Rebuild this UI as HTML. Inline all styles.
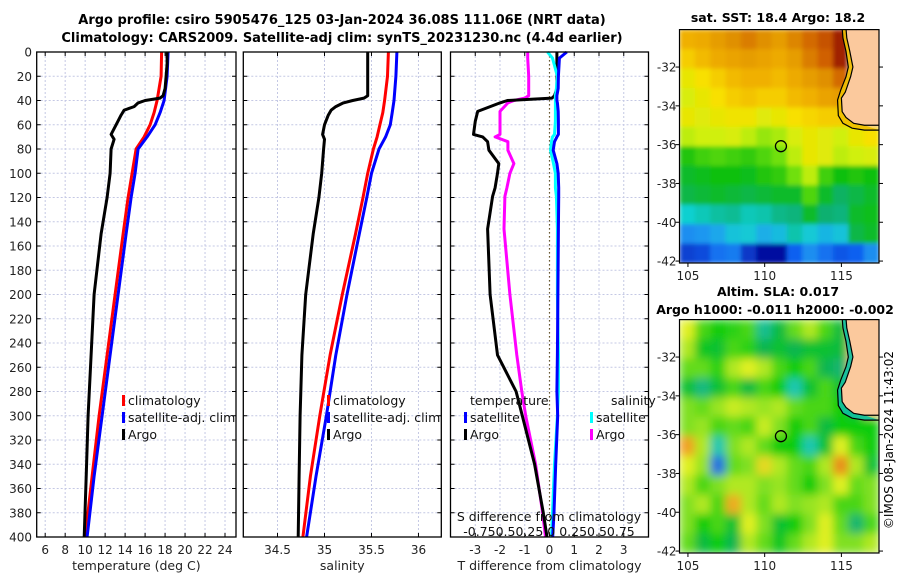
<!DOCTYPE html>
<html><head><meta charset="utf-8">
<style>
html,body{margin:0;padding:0;background:#fff;}
svg{display:block;font-family:"DejaVu Sans","Liberation Sans",sans-serif;}
</style></head>
<body>
<svg id="fig" width="900" height="580" viewBox="0 0 900 580" xmlns="http://www.w3.org/2000/svg">
<defs>
<clipPath id="clipM1"><rect x="679.5" y="29.6" width="199.5" height="233.4"/></clipPath>
<clipPath id="clipM2"><rect x="679.5" y="319.6" width="199.5" height="233.4"/></clipPath>
<filter id="blurSST" filterUnits="userSpaceOnUse" x="679.5" y="29.6" width="199.5" height="233.4"><feGaussianBlur stdDeviation="2" edgeMode="duplicate"/></filter>
<filter id="blurSLA" filterUnits="userSpaceOnUse" x="679.5" y="319.6" width="199.5" height="233.4"><feGaussianBlur stdDeviation="4.5" edgeMode="duplicate"/></filter>
</defs>
<text x="342" y="24" text-anchor="middle" font-weight="bold" font-size="13">Argo profile: csiro 5905476_125 03-Jan-2024 36.08S 111.06E (NRT data)</text>
<text x="342" y="42" text-anchor="middle" font-weight="bold" font-size="13">Climatology: CARS2009. Satellite-adj clim: synTS_20231230.nc (4.4d earlier)</text>
<g id="panels"></g>
<g id="maps"></g>
<text transform="translate(893,440) rotate(-90)" text-anchor="middle" font-size="12">©IMOS 08-Jan-2024 11:43:02</text>
</svg>
<script>
// ---------- profile data ----------
const climDepth = [0,20,40,50,60,70,80,100,120,150,200,250,300,350,400];
const climT = [17.65,17.6,17.2,16.9,16.5,15.9,15.1,14.7,14.3,13.8,13.0,12.2,11.4,10.7,10.0];
const satT  = [18.3,18.2,17.9,17.5,17.0,16.2,15.3,15.0,14.6,14.1,13.3,12.5,11.7,10.9,10.2];
const climS = [35.68,35.67,35.64,35.62,35.59,35.56,35.52,35.46,35.41,35.33,35.19,35.06,34.95,34.85,34.77];
const satS  = [35.77,35.76,35.74,35.72,35.70,35.65,35.58,35.50,35.45,35.37,35.24,35.12,35.02,34.91,34.81];
const argoDepth = [0,10,20,30,36,38,40,42,45,48,52,60,68,72,80,100,120,150,200,250,300,350,400];
const argoT = [18.2,18.2,18.1,18.0,17.8,17.5,16.0,15.3,14.9,13.9,13.6,13.1,12.6,12.9,12.6,12.5,12.2,11.6,10.9,10.6,10.3,10.1,9.9];
const argoS = [35.46,35.46,35.46,35.46,35.46,35.42,35.3,35.2,35.12,35.07,35.04,35.0,34.98,35.0,34.99,34.97,34.94,34.88,34.80,34.76,34.74,34.73,34.72];
const diffDepth = [0,5,20,30,36,38,40,42,49,57,68,70,74,81,92,100,112,119,146,200,250,280,300,340,380,400];
const dTargo = [0.3,0.3,0.3,0.3,0.2,0.1,-1.7,-2.0,-2.9,-3.0,-3.07,-2.7,-2.5,-2.45,-2.05,-2.1,-2.2,-2.3,-2.5,-2.4,-2.1,-1.35,-1.1,-0.6,-0.25,-0.1];
const dTsat  = [0.7,0.4,0.36,0.35,0.3,0.3,0.3,0.32,0.35,0.36,0.36,0.3,0.2,0.15,0.3,0.35,0.37,0.37,0.36,0.34,0.32,0.3,0.33,0.25,0.18,0.13];
const dSargo = [-0.22,-0.22,-0.21,-0.21,-0.21,-0.25,-0.36,-0.42,-0.5,-0.5,-0.5,-0.55,-0.42,-0.42,-0.36,-0.4,-0.43,-0.45,-0.46,-0.4,-0.33,-0.28,-0.24,-0.14,-0.07,-0.04];
const dSsat  = [-0.02,0.03,0.08,0.07,0.06,0.06,0.06,0.06,0.06,0.06,0.05,0.03,0.02,0.01,0.04,0.06,0.06,0.07,0.08,0.08,0.09,0.09,0.08,0.05,0.03,0.02];
const depthTicks = [0,20,40,60,80,100,120,140,160,180,200,220,240,260,280,300,320,340,360,380,400];
const tTicks = [6,8,10,12,14,16,18,20,22,24];
const sTicks = [34.5,35,35.5,36];
const dTicks = [-3,-2,-1,0,1,2,3];

// ---------- map data (1 deg cells, rows from -30 southward, cols from 104.45 E) ----------
const sstRows = [
 [19.3,19.4,19.6,19.8,20.0,19.8,19.6,19.9,20.2,20.4,20.8,null,null],
 [19.0,19.2,19.4,19.5,19.6,19.5,19.4,19.6,20.0,20.3,20.8,null,null],
 [18.6,18.8,19.0,19.2,19.3,19.3,19.2,19.4,19.6,19.8,20.2,null,null],
 [18.4,18.6,18.8,19.0,19.1,19.0,19.0,19.2,19.3,19.5,19.6,null,null],
 [18.6,18.5,18.6,18.7,18.7,18.5,18.6,18.8,18.9,19.0,19.0,18.8,null],
 [18.2,18.3,18.3,18.4,18.2,18.0,18.1,18.4,18.6,18.5,18.3,18.6,18.8],
 [17.3,17.5,17.6,17.5,17.4,17.6,17.8,18.2,18.6,18.5,18.2,18.3,18.4],
 [17.0,17.1,17.2,17.2,17.1,17.3,17.4,17.8,18.2,17.5,17.2,17.3,17.2],
 [16.8,16.9,17.0,16.9,16.8,16.9,17.0,17.0,17.6,17.0,16.6,16.8,17.0],
 [15.7,15.9,16.1,16.2,15.9,16.0,16.3,16.4,17.0,16.5,16.4,17.0,17.1],
 [14.8,14.9,15.1,15.5,15.6,15.2,15.4,16.0,15.6,15.3,15.5,16.8,17.0],
 [14.0,14.1,14.5,14.6,13.9,13.5,13.5,14.3,14.8,14.5,14.2,14.3,14.8]
];
const slaRows = [
 [0.08,0.02,0.0,0.01,0.02,-0.08,-0.03,0.03,0.06,0.02,-0.03,null,null],
 [0.06,-0.01,-0.02,0.02,0.01,-0.04,-0.02,-0.04,-0.02,-0.02,-0.03,null,null],
 [0.03,0.03,0.01,0.06,0.08,0.06,0.02,0.0,0.02,-0.04,-0.06,null,null],
 [-0.02,-0.07,-0.02,0.02,-0.03,0.02,0.0,-0.1,-0.02,0.02,-0.02,null,null],
 [0.04,0.03,0.05,0.07,0.06,0.05,0.06,0.03,0.02,0.02,0.0,-0.04,null],
 [0.04,0.05,0.02,0.03,0.02,0.07,0.04,0.0,0.02,-0.03,0.0,0.0,0.0],
 [0.15,0.06,-0.1,0.04,0.06,0.03,0.0,0.0,-0.1,-0.02,0.08,0.02,0.0],
 [0.08,0.05,-0.2,0.03,0.04,0.1,0.06,0.03,0.02,0.06,0.17,0.06,-0.02],
 [0.06,0.02,0.04,0.06,0.06,0.04,0.05,0.03,0.0,0.04,0.08,0.03,0.04],
 [0.04,0.06,0.02,0.14,0.06,0.03,0.06,0.04,0.05,0.06,0.02,0.02,0.04],
 [0.04,0.0,0.02,-0.02,0.08,0.04,-0.02,0.0,0.04,0.08,0.03,-0.06,0.02],
 [0.03,-0.03,0.0,-0.04,0.06,0.03,-0.01,0.03,0.06,0.08,0.04,0.04,0.06]
];
const coastLon = [115.3,115.35,115.55,115.75,115.6,115.25,115.0,115.05,115.3,115.8,116.5,117.5,117.5];
const coastLat = [-30.0,-30.5,-31.2,-32.0,-32.5,-33.3,-33.6,-34.3,-34.6,-34.9,-35.0,-35.0,-30.0];
const shelfLon = [115.05,115.1,115.3,115.45,115.3,114.95,114.75,114.8,115.1,115.7,116.5,117.45];
const shelfLat = [-30.0,-30.5,-31.2,-32.0,-32.5,-33.2,-33.7,-34.5,-34.9,-35.15,-35.25,-35.25];
const floatLon = 111.06, floatLat = -36.08;
const mapLatTicks = [-32,-34,-36,-38,-40,-42];
const mapLonTicks = [105,110,115];

const NS="http://www.w3.org/2000/svg";
function mk(tag,attrs,parent){const e=document.createElementNS(NS,tag);for(const k in attrs)e.setAttribute(k,attrs[k]);parent.appendChild(e);return e;}
function sc(d0,d1,r0,r1){return v=>r0+(v-d0)/(d1-d0)*(r1-r0);}
const TOP=52,BOT=537;
const yD=sc(0,400,TOP,BOT);
const panelsG=document.getElementById('panels');

function panel(name,x0,x1,dom0,dom1,ticks,xlabel){
  const g=mk('g',{},panelsG);
  
  
  const xs=sc(dom0,dom1,x0,x1);
  ticks.forEach(t=>{const l=mk('line',{x1:xs(t),x2:xs(t),y1:TOP,y2:BOT,stroke:'#c4c8e4','stroke-width':1,'stroke-dasharray':'2,2'},g);
    });
  depthTicks.forEach(d=>{const l=mk('line',{x1:x0,x2:x1,y1:yD(d),y2:yD(d),stroke:'#c4c8e4','stroke-width':1,'stroke-dasharray':'2,2'},g);
    });
  depthTicks.forEach(d=>{mk('line',{x1:x0,x2:x0+4,y1:yD(d),y2:yD(d),stroke:'#000'},g);mk('line',{x1:x1-4,x2:x1,y1:yD(d),y2:yD(d),stroke:'#000'},g);});
  ticks.forEach(t=>{mk('line',{x1:xs(t),x2:xs(t),y1:BOT-4,y2:BOT,stroke:'#000'},g);mk('line',{x1:xs(t),x2:xs(t),y1:TOP,y2:TOP+4,stroke:'#000'},g);
    const tx=mk('text',{x:xs(t),y:BOT+17,'text-anchor':'middle','font-size':12,fill:'#222'},g);tx.textContent=String(t);
    });
  const xl=mk('text',{x:(x0+x1)/2,y:BOT+33,'text-anchor':'middle','font-size':12.5,fill:'#222'},g);xl.textContent=xlabel;
  
  return {g,xs};
}
function line(g,xs,vals,depths,color,name,w){
  const d=vals.map((v,i)=>(i?'L':'M')+xs(v).toFixed(1)+','+yD(depths[i]).toFixed(1)).join('');
  const p=mk('path',{d:d,fill:'none',stroke:color,'stroke-width':w||3,'stroke-linejoin':'round'},g);
  
}
function box(g,x0,x1){const r=mk('rect',{x:x0,y:TOP,width:x1-x0,height:BOT-TOP,fill:'none',stroke:'#000','stroke-width':1.3},g);
  }
function legend(g,x,y,color,label,name){
  mk('rect',{x:x,y:y-10,width:3,height:11,fill:color},g);
  const t=mk('text',{x:x+6,y:y,'font-size':12.5,fill:'#111'},g);t.textContent=label;
  
}

const p1=panel('temperature-panel',36.7,236,5.15,25.1,tTicks,'temperature (deg C)');
depthTicks.forEach(d=>{const t=mk('text',{x:32,y:yD(d)+4.5,'text-anchor':'end','font-size':12,fill:'#222'},p1.g);t.textContent=d;
  });
line(p1.g,p1.xs,climT,climDepth,'#f00','climatology-temperature-line');
line(p1.g,p1.xs,satT,climDepth,'#00f','satellite-temperature-line');
line(p1.g,p1.xs,argoT,argoDepth,'#000','argo-temperature-line');
box(p1.g,36.7,236);
legend(p1.g,122,405,'#f00','climatology','legend-climatology');
legend(p1.g,122,422,'#00f','satellite-adj. clim','legend-satellite');
legend(p1.g,122,439,'#000','Argo','legend-argo');

const p2=panel('salinity-panel',243.3,441.3,34.136,36.243,sTicks,'salinity');
line(p2.g,p2.xs,climS,climDepth,'#f00','climatology-salinity-line');
line(p2.g,p2.xs,satS,climDepth,'#00f','satellite-salinity-line');
line(p2.g,p2.xs,argoS,argoDepth,'#000','argo-salinity-line');
box(p2.g,243.3,441.3);
legend(p2.g,327,405,'#f00','climatology','legend-climatology');
legend(p2.g,327,422,'#00f','satellite-adj. clim','legend-satellite');
legend(p2.g,327,439,'#000','Argo','legend-argo');

const p3=panel('difference-panel',450.5,648.5,-4,4,dTicks,'T difference from climatology');
const xsS=sc(-1,1,450.5,648.5);
const zl=mk('line',{x1:p3.xs(0),x2:p3.xs(0),y1:TOP,y2:BOT,stroke:'#6b5a2a','stroke-width':1.2,'stroke-dasharray':'1.5,2.5'},p3.g);

line(p3.g,xsS,dSargo,diffDepth,'#f0f','argo-salinity-diff-line');
line(p3.g,p3.xs,dTargo,diffDepth,'#000','argo-temperature-diff-line');
line(p3.g,xsS,dSsat,diffDepth,'#0ff','satellite-salinity-diff-line');
line(p3.g,p3.xs,dTsat,diffDepth,'#00f','satellite-temperature-diff-line');
box(p3.g,450.5,648.5);
let tt=mk('text',{x:470,y:405,'font-size':12.5,fill:'#111'},p3.g);tt.textContent='temperature';

tt=mk('text',{x:611,y:405,'font-size':12.5,fill:'#111'},p3.g);tt.textContent='salinity';

legend(p3.g,464,422,'#00f','satellite','legend-temp-satellite');
legend(p3.g,464,439,'#000','Argo','legend-temp-argo');
legend(p3.g,590,422,'#0ff','satellite','legend-sal-satellite');
legend(p3.g,590,439,'#f0f','Argo','legend-sal-argo');
tt=mk('text',{x:549,y:521,'text-anchor':'middle','font-size':12.5,fill:'#111'},p3.g);tt.textContent='S difference from climatology';

tt=mk('text',{x:549,y:536,'text-anchor':'middle','font-size':12.5,fill:'#111'},p3.g);tt.textContent='-0.750.50.25 0  0.250.50.75';


function interp(stops,v){
  if(v<=stops[0][0])return stops[0][1];
  for(let i=1;i<stops.length;i++){if(v<=stops[i][0]){const a=stops[i-1],b=stops[i],f=(v-a[0])/(b[0]-a[0]);
    return [0,1,2].map(k=>Math.round(a[1][k]+(b[1][k]-a[1][k])*f));}}
  return stops[stops.length-1][1];
}
function rgbStops(arr){return arr.map(s=>[s[0],[parseInt(s[1].slice(1,3),16),parseInt(s[1].slice(3,5),16),parseInt(s[1].slice(5,7),16)]]);}
const sstStops=rgbStops([[13.5,'#0010a0'],[14.3,'#1060f0'],[15,'#20a0f0'],[15.7,'#10d0d0'],[16.5,'#10b070'],[17.2,'#10c010'],[17.8,'#70e010'],[18.3,'#d0f010'],[18.8,'#f8e000'],[19.3,'#f0b000'],[19.8,'#e09000'],[20.3,'#d06000'],[20.8,'#a02000']]);
const slaStops=rgbStops([[-0.2,'#2070e0'],[-0.12,'#20d0d0'],[-0.05,'#10b060'],[0,'#10cc10'],[0.04,'#80e020'],[0.08,'#e0f020'],[0.15,'#f0a020'],[0.2,'#e07010']]);
function col(stops,v){const c=interp(stops,v);return 'rgb('+c.join(',')+')';}
const mapsG=document.getElementById('maps');
function drawMap(name,y0,rows,stops,filt,clip,bandColor,title1,title2,titleY){
  const g=mk('g',{},mapsG);
  
  const X0=679.5,X1=879,Y0=y0,Y1=y0+233.4;
  const lx=sc(104.45,117.45,X0,X1), ly=sc(-30.07,-42.1,Y0,Y1);
  const hg=mk('g',{'clip-path':'url(#'+clip+')'},g);
  const cells=mk('g',{filter:'url(#'+filt+')'},hg);
  
  const nr=rows.length,nc=rows[0].length,cw=(X1-X0)/nc,ch=(Y1-Y0)/nr;
  rows.forEach((row,r)=>row.forEach((v,c)=>{
    const fill=v===null?'#fbc99d':col(stops,v);
    const re=mk('rect',{x:(X0+c*cw).toFixed(2),y:(Y0+r*ch).toFixed(2),width:(cw+0.6).toFixed(2),height:(ch+0.6).toFixed(2),fill:fill},cells);
    
  }));
  const bandPts=shelfLon.map((l,i)=>lx(l)+','+ly(shelfLat[i])).concat(coastLon.slice(0,11).reverse().map((l,j)=>{const i=10-j;return lx(l)+','+ly(coastLat[i]);}));
  const band=mk('polygon',{points:bandPts.join(' '),fill:bandColor,opacity:0.9},hg);
  
  const land=mk('polygon',{points:coastLon.map((l,i)=>lx(l)+','+ly(coastLat[i])).join(' '),fill:'#fbc99d',stroke:'#000','stroke-width':1.2},hg);
  
  const shelf=mk('polyline',{points:shelfLon.map((l,i)=>lx(l)+','+ly(shelfLat[i])).join(' '),fill:'none',stroke:'#000','stroke-width':1.2},hg);
  
  const fc=mk('circle',{cx:lx(floatLon),cy:ly(floatLat),r:5.5,fill:'none',stroke:'#000','stroke-width':1.3},g);
  
  const fr=mk('rect',{x:X0,y:Y0,width:X1-X0,height:Y1-Y0,fill:'none',stroke:'#000','stroke-width':1.2},g);
  
  mapLatTicks.forEach(t=>{mk('line',{x1:X0-4,x2:X0,y1:ly(t),y2:ly(t),stroke:'#000'},g);mk('line',{x1:X1,x2:X1+4,y1:ly(t),y2:ly(t),stroke:'#000'},g);
    const tx=mk('text',{x:X0-3,y:ly(t)+4.5,'text-anchor':'end','font-size':12,fill:'#222'},g);tx.textContent=String(t);
    });
  mapLonTicks.forEach(t=>{mk('line',{x1:lx(t),x2:lx(t),y1:Y1,y2:Y1+4,stroke:'#000'},g);
    const tx=mk('text',{x:lx(t),y:Y1+17,'text-anchor':'middle','font-size':12,fill:'#222'},g);tx.textContent=String(t);
    });
  let t1=mk('text',{x:778,y:titleY,'text-anchor':'middle','font-weight':'bold','font-size':12.5},g);t1.textContent=title1;
  
  if(title2){let t2=mk('text',{x:775,y:titleY+18,'text-anchor':'middle','font-weight':'bold','font-size':12.5},g);t2.textContent=title2;
    }
}
drawMap('sst-map',29.6,sstRows,sstStops,'blurSST','clipM1','#f0c000','sat. SST: 18.4 Argo: 18.2',null,22);
drawMap('sla-map',319.6,slaRows,slaStops,'blurSLA','clipM2','#10c0a0','Altim. SLA: 0.017','Argo h1000: -0.011 h2000: -0.002',296);
</script>
</body></html>
